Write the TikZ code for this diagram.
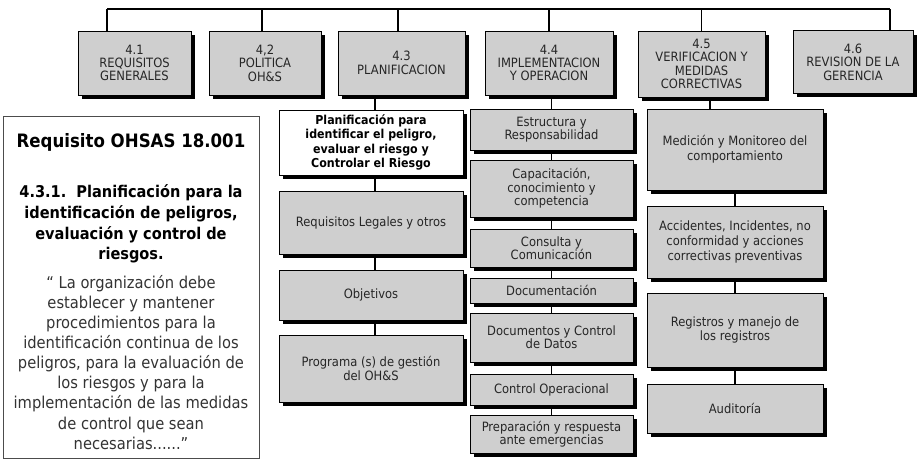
\documentclass[tikz,border=0pt]{standalone}
\usepackage{fontspec}
\setmainfont{DejaVu Sans Condensed}
\usetikzlibrary{shadows}

\tikzset{
  caja/.style={rectangle, draw=black, line width=0.5pt, fill=gray!38, align=center,
    inner sep=1pt, text=black!85, font=\fontsize{7.3}{8.4}\selectfont,
    drop shadow={shadow xshift=0.08cm, shadow yshift=-0.08cm, fill=black, opacity=1}},
  cajaapretada/.style={caja, font=\fontsize{7.3}{7.6}\selectfont},
  cajablanca/.style={caja, fill=white, text=black, font=\bfseries\fontsize{7}{8.3}\selectfont},
  linea/.style={draw=black, line width=1.1pt}
}

\begin{document}
\begin{tikzpicture}[x=0.02cm, y=-0.02cm]
    \useasboundingbox (0,0) rectangle (918,463);

    % Top row
    \node [cajaapretada, minimum width=2.26cm, minimum height=1.28cm] (t41) at (134.5,63) {4.1\\REQUISITOS\\GENERALES};
    \node [cajaapretada, minimum width=2.24cm, minimum height=1.28cm] (t42) at (265,63) {4,2\\POLITICA\\OH\&S};
    \node [cajaapretada, minimum width=2.54cm, minimum height=1.28cm] (t43) at (401.5,63) {4.3\\PLANIFICACION};
    \node [cajaapretada, minimum width=2.56cm, minimum height=1.28cm] (t44) at (549,63) {4.4\\IMPLEMENTACION\\Y OPERACION};
    \node [cajaapretada, minimum width=2.54cm, minimum height=1.32cm] (t45) at (701.5,64) {4.5\\VERIFICACION Y\\MEDIDAS\\CORRECTIVAS};
    \node [cajaapretada, minimum width=2.40cm, minimum height=1.26cm] (t46) at (853,62) {4.6\\REVISION DE LA\\GERENCIA};

    % Top bar
    \coordinate (b1) at (107,9);
    \coordinate (b6) at (890,9);
    \draw [linea] (b1) -- (b6);
    \draw [linea] (b1) -- (b1 |- t41.north);
    \draw [linea] ([xshift=-0.06cm]t42.north |- b1) -- ([xshift=-0.06cm]t42.north);
    \draw [linea] ([xshift=-0.07cm]t43.north |- b1) -- ([xshift=-0.07cm]t43.north);
    \draw [linea] (t44.north |- b1) -- (t44.north);
    \draw [linea] (t45.north |- b1) -- (t45.north);
    \draw [linea] (b6) -- (b6 |- t46.north);

    % Left text box
    \node [rectangle, draw=black!70, line width=0.5pt, minimum width=5.12cm, minimum height=6.84cm] (req) at (131,287) {};
    \node [font=\bfseries\fontsize{10.5}{12}\selectfont] (reqtit) at (131,142) {Requisito OHSAS 18.001};
    \node [align=center, font=\bfseries\fontsize{9.2}{11.7}\selectfont] (reqsub) at (131,224)
        {4.3.1.\ \ Planificación para la\\identificación de peligros,\\evaluación y control de\\riesgos.};
    \node [align=center, text=black!80, font=\fontsize{9.3}{11.4}\selectfont] (reqtxt) at (131,362.5)
        {“ La organización debe\\establecer y mantener\\procedimientos para la\\identificación continua de los\\peligros, para la evaluación de\\los riesgos y para la\\implementación de las medidas\\de control que sean\\necesarias......”};

    % Column 4.3
    \node [cajablanca, minimum width=3.68cm, minimum height=1.30cm] (p1) at (371,142.5) {Planificación para\\identificar el peligro,\\evaluar el riesgo y\\Controlar el Riesgo};
    \node [caja, minimum width=3.68cm, minimum height=1.26cm] (p2) at (371,222.5) {Requisitos Legales y otros};
    \node [caja, minimum width=3.68cm, minimum height=1.00cm] (p3) at (371,295) {Objetivos};
    \node [caja, minimum width=3.68cm, minimum height=1.34cm] (p4) at (371,368.5) {Programa (s) de gestión\\del OH\&S};
    \draw [linea] ([xshift=0.08cm]p1.north) -- ([xshift=0.08cm]p1.north |- t43.south);
    \draw [linea] ([xshift=0.08cm]p1.south) -- ([xshift=0.08cm]p2.north);
    \draw [linea] ([xshift=0.08cm]p2.south) -- ([xshift=0.08cm]p3.north);
    \draw [linea] ([xshift=0.08cm]p3.south) -- ([xshift=0.08cm]p4.north);

    % Column 4.4
    \node [cajaapretada, minimum width=3.26cm, minimum height=0.82cm] (i1) at (551.5,129.5) {Estructura y\\Responsabilidad};
    \node [cajaapretada, minimum width=3.26cm, minimum height=1.14cm] (i2) at (551.5,188.5) {Capacitación,\\conocimiento y\\competencia};
    \node [cajaapretada, minimum width=3.26cm, minimum height=0.76cm] (i3) at (551.5,248) {Consulta y\\Comunicación};
    \node [cajaapretada, minimum width=3.26cm, minimum height=0.50cm] (i4) at (551.5,290.5) {Documentación};
    \node [cajaapretada, minimum width=3.26cm, minimum height=0.98cm] (i5) at (551.5,337.5) {Documentos y Control\\de Datos};
    \node [cajaapretada, minimum width=3.26cm, minimum height=0.62cm] (i6) at (551.5,389.5) {Control Operacional};
    \node [cajaapretada, minimum width=3.26cm, minimum height=0.76cm] (i7) at (551.5,434) {Preparación y respuesta\\ante emergencias};
    \draw [linea] (i1.north) -- (i1.north |- t44.south);
    \draw [linea] (i1.south) -- (i2.north);
    \draw [linea] (i2.south) -- (i3.north);
    \draw [linea] (i3.south) -- (i4.north);
    \draw [linea] (i4.south) -- (i5.north);
    \draw [linea] (i5.south) -- (i6.north);
    \draw [linea] (i6.south) -- (i7.north);

    % Column 4.5
    \node [caja, minimum width=3.52cm, minimum height=1.62cm] (v1) at (735,149.5) {Medición y Monitoreo del\\comportamiento};
    \node [caja, minimum width=3.52cm, minimum height=1.44cm] (v2) at (735,242) {Accidentes, Incidentes, no\\conformidad y acciones\\correctivas preventivas};
    \node [caja, minimum width=3.52cm, minimum height=1.48cm] (v3) at (735,330) {Registros y manejo de\\los registros};
    \node [caja, minimum width=3.52cm, minimum height=0.98cm] (v4) at (735,408.5) {Auditoría};
    \draw [linea] ([xshift=-0.5cm]v1.north) -- ([xshift=-0.5cm]v1.north |- t45.south);
    \draw [linea] (v1.south) -- (v2.north);
    \draw [linea] (v2.south) -- (v3.north);
    \draw [linea] (v3.south) -- (v4.north);
\end{tikzpicture}
\end{document}
